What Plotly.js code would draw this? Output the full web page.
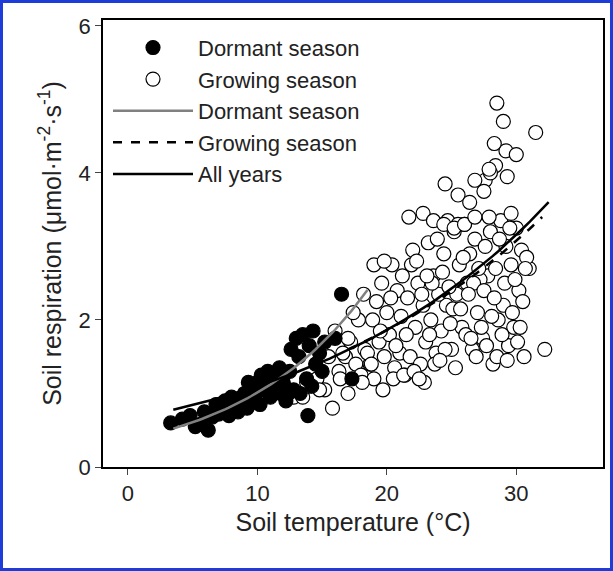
<!DOCTYPE html><html><head><script src="https://cdn.plot.ly/plotly-3.0.1.min.js"></script></head><body style="margin:0;background:#fff">
<div id="c" style="width:607px;height:565px;border:3px solid #1e3cd8"></div>
<script>
const dormX=[3.3,4.2,4.8,5.2,5.6,6.2,5.9,6.5,7.0,7.3,7.8,8.2,8.5,8.8,9.0,9.2,9.5,9.8,10.0,10.2,10.5,10.7,11.0,11.2,11.5,11.8,12.0,12.2,12.5,12.8,12.6,13.0,13.2,13.5,13.8,14.0,14.3,14.5,13.9,14.8,15.0,16.5,17.3,9.3,8.0,7.5,6.8,10.8,11.7,12.4,13.3,14.2,15.2,16.0,10.3,9.7];
const dormY=[0.6,0.65,0.7,0.55,0.58,0.5,0.75,0.68,0.72,0.8,0.7,0.85,0.75,0.9,1.0,0.8,1.1,0.95,1.15,0.85,1.05,1.2,0.95,1.1,1.25,1.0,1.15,0.9,1.3,1.05,1.6,1.75,1.5,1.8,1.2,1.65,1.85,1.4,0.7,1.55,1.3,2.35,1.2,1.15,0.95,0.9,0.85,1.3,1.35,1.0,1.0,1.1,1.7,1.75,1.25,0.88];
const growX=[12.3,12.8,13.5,14.0,14.6,15.2,15.8,16.3,16.8,17.2,17.6,18.0,18.3,18.7,19.0,16.0,16.6,17.0,17.8,18.5,19.4,19.8,20.2,20.6,21.0,21.4,21.8,22.2,22.6,23.0,23.4,23.8,24.2,24.6,25.0,25.4,25.8,26.2,26.6,27.0,27.4,27.8,28.2,28.6,29.0,29.4,29.8,30.2,30.6,31.0,
19.2,19.6,20.0,20.4,20.8,21.2,21.6,22.0,22.4,22.8,23.2,23.6,24.0,24.4,24.8,25.2,25.6,26.0,26.4,26.8,27.2,27.6,28.0,28.4,28.8,29.2,29.6,30.0,30.4,30.8,
18.2,18.9,19.5,20.3,21.1,21.9,22.7,23.5,24.3,25.1,25.9,26.7,27.5,28.3,29.1,29.9,30.7,
20.5,21.3,22.1,22.9,23.7,24.5,25.3,26.1,26.9,27.7,28.5,29.3,30.1,
17.4,18.1,18.8,19.7,20.7,21.5,22.5,23.3,24.1,24.9,25.7,26.5,27.3,28.1,28.9,29.7,30.5,
22.3,23.1,23.9,24.7,25.5,26.3,27.1,27.9,28.7,29.5,
21.7,22.8,23.6,24.4,25.2,26.0,26.8,27.6,28.4,29.2,30.0,
28.5,29.0,31.5,32.2,28.0,28.3,29.3,27.5,26.8,25.5,24.5,19.0,19.8,17.0,16.4,15.5,14.8,13.8,26.4,27.9,29.6,30.3];
const growY=[1.0,0.95,0.95,1.1,1.2,1.05,0.8,1.3,1.5,1.7,1.4,1.25,1.6,1.4,1.2,1.85,1.55,1.75,2.0,1.55,1.7,1.5,1.8,1.35,1.55,1.25,1.5,1.9,1.4,1.7,2.0,1.55,1.85,2.2,1.6,2.35,1.9,2.5,1.6,2.1,1.75,2.6,1.4,2.0,2.2,1.65,1.9,2.4,1.5,2.7,
2.25,2.5,2.1,2.75,2.4,2.6,2.3,2.95,2.5,2.2,3.05,2.6,2.35,2.9,2.45,3.2,2.75,3.3,2.9,3.1,2.55,3.0,3.2,2.7,3.35,3.0,2.75,3.25,2.95,2.85,
2.35,2.0,1.85,2.3,2.05,2.75,2.35,2.5,2.65,2.15,2.85,2.5,2.4,2.3,2.5,2.55,2.7,
1.2,1.25,1.3,1.15,1.4,1.6,1.35,1.8,1.5,1.65,1.5,1.45,1.7,
2.1,1.15,1.4,1.05,1.65,1.8,1.2,1.8,1.45,1.95,2.15,1.75,1.9,2.05,1.8,2.1,2.25,
2.8,2.6,3.1,3.35,3.3,2.35,2.7,3.4,3.1,3.25,
3.4,3.45,3.35,3.3,3.25,3.3,3.4,3.9,4.1,4.3,4.25,
4.95,4.7,4.55,1.6,4.0,4.4,3.95,3.75,3.9,3.7,3.85,2.75,2.8,1.0,1.2,1.5,1.05,1.15,3.6,4.05,3.45,1.9];
// exponential fits R = a*exp(b*T): [a, b, Tmin, Tmax]
const fitDorm=[0.365,0.102,3.5,18.5];
const fitGrow=[0.68,0.0503,17,32];
const fitAll=[0.648,0.0528,3.5,32.5];
function curve(p){const x=[],y=[];for(let i=0;i<=60;i++){const t=p[2]+(p[3]-p[2])*i/60;x.push(t);y.push(p[0]*Math.exp(p[1]*t));}return {x,y};}
const cd=curve(fitDorm),cg=curve(fitGrow),ca=curve(fitAll);
const mk={size:14,line:{width:1.2,color:'#000'}};
const data=[
{x:growX,y:growY,mode:'markers',type:'scatter',name:'Growing season',marker:Object.assign({color:'#fff'},mk),showlegend:false},
{x:dormX,y:dormY,mode:'markers',type:'scatter',name:'Dormant season',marker:Object.assign({color:'#000'},mk),showlegend:false},
{x:[-9],y:[-9],mode:'markers',name:'Dormant season',marker:Object.assign({color:'#000'},mk)},
{x:[-9],y:[-9],mode:'markers',name:'Growing season',marker:Object.assign({color:'#fff'},mk)},
{x:cd.x,y:cd.y,mode:'lines',name:'Dormant season',line:{color:'#808080',width:2.5}},
{x:cg.x,y:cg.y,mode:'lines',name:'Growing season',line:{color:'#000',width:2.5,dash:'dash'}},
{x:ca.x,y:ca.y,mode:'lines',name:'All years',line:{color:'#000',width:2.5}}
];
const layout={width:607,height:565,margin:{l:100,r:7,t:17,b:101},paper_bgcolor:'#fff',plot_bgcolor:'#fff',
font:{family:'Liberation Sans, Arial',size:22,color:'#222'},
xaxis:{range:[-1.93,36.7],tickvals:[0,10,20,30],ticks:'outside',ticklen:6,showgrid:false,zeroline:false,showline:true,mirror:true,linecolor:'#000',linewidth:1.5,
title:{text:'Soil temperature (\u00B0C)',font:{size:25},standoff:8}},
yaxis:{range:[0,6.08],tickvals:[0,2,4,6],ticks:'outside',ticklen:6,showgrid:false,zeroline:false,showline:true,mirror:true,linecolor:'#000',linewidth:1.5,
title:{text:'Soil respiration (\u03BCmol\u00B7m<sup>-2</sup>\u00B7s<sup>-1</sup>)',font:{size:25},standoff:10}},
legend:{x:0.01,y:0.985,xanchor:'left',yanchor:'top',bgcolor:'rgba(0,0,0,0)',font:{size:22},tracegroupgap:0,itemwidth:80}
};
Plotly.newPlot('c',data,layout,{displayModeBar:false});
</script></body></html>
